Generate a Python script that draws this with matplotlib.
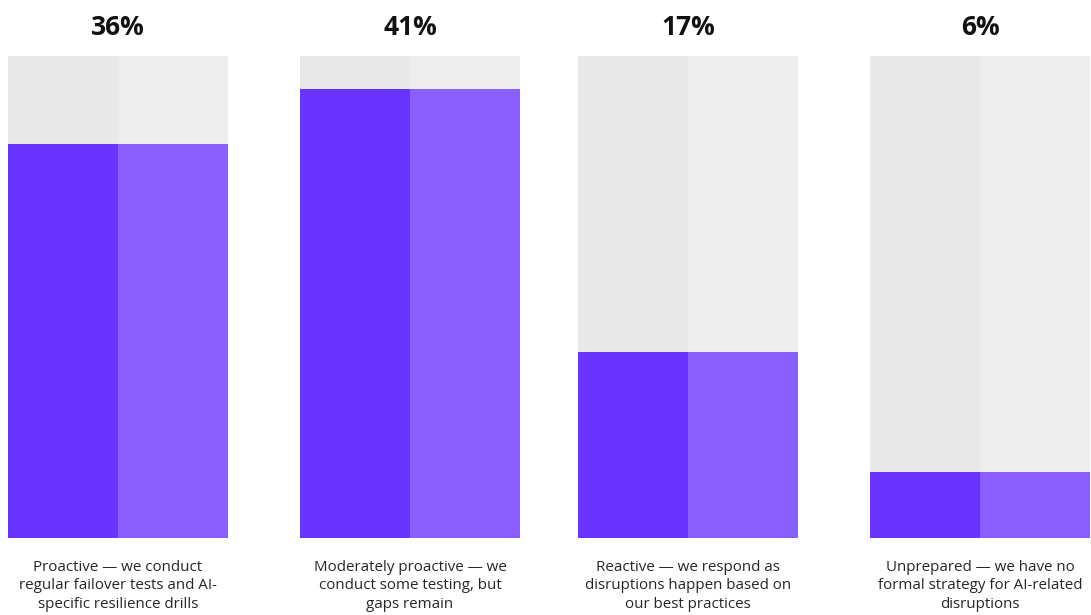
import matplotlib
matplotlib.use("Agg")
import matplotlib.pyplot as plt
import matplotlib.transforms as mtransforms

plt.rcParams['font.family'] = ['Open Sans', 'DejaVu Sans']

# data
categories = [
    "Proactive \u2014 we conduct\nregular failover tests and AI-\nspecific resilience drills",
    "Moderately proactive \u2014 we\nconduct some testing, but\ngaps remain",
    "Reactive \u2014 we respond as\ndisruptions happen based on\nour best practices",
    "Unprepared \u2014 we have no\nformal strategy for AI-related\ndisruptions",
]
shares = [36, 41, 17, 6]
pct_labels = ["36%", "41%", "17%", "6%"]
scale_max = 44

# layout (pixel-like x positions of bar centres)
centers = [118, 410, 688, 980]
half_w = 110

dark = "#6934FF"
light = "#8960FF"
bg_left = "#E8E8E8"
bg_right = "#EDEDED"

fig = plt.figure(figsize=(10.91, 6.15), dpi=100)
ax = fig.add_axes([0, 77 / 615, 1, 482 / 615])
ax.set_xlim(0, 1091)
ax.set_ylim(0, scale_max)
ax.axis("off")

left_x = [c - half_w / 2 for c in centers]
right_x = [c + half_w / 2 for c in centers]
ax.bar(left_x, [scale_max] * 4, width=half_w, color=bg_left, linewidth=0)
ax.bar(right_x, [scale_max] * 4, width=half_w, color=bg_right, linewidth=0)
ax.bar(left_x, shares, width=half_w, color=dark, linewidth=0)
ax.bar(right_x, shares, width=half_w, color=light, linewidth=0)

trans = mtransforms.blended_transform_factory(ax.transData, ax.transAxes)
for c, p, lab in zip(centers, pct_labels, categories):
    ax.text(c, 1.06, p, transform=trans, ha="center", va="center",
            fontsize=19, fontweight="bold", color="#111111", clip_on=False)
    ax.text(c, -0.045, lab, transform=trans, ha="center", va="top",
            fontsize=10.9, color="#262626", linespacing=1.32, clip_on=False)

fig.savefig("out.png", dpi=100)
